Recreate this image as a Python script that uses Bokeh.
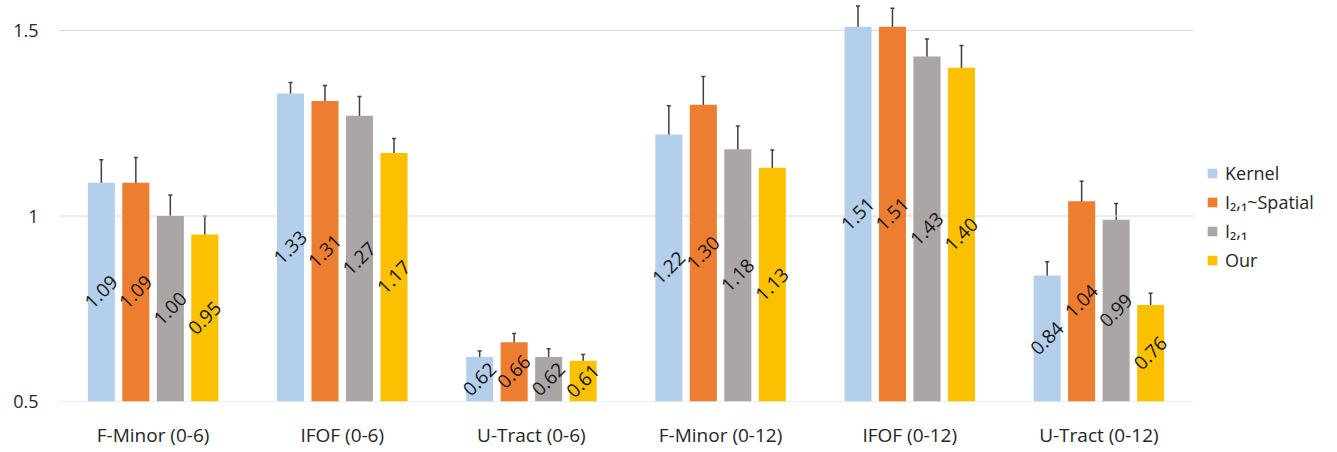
import math
from bokeh.plotting import figure
from bokeh.models import ColumnDataSource, Range1d, FixedTicker, CustomJSTickFormatter, Whisker, TeeHead, Legend, LegendItem
from bokeh.transform import dodge
from bokeh.core.properties import value
from bokeh.embed import file_html
from bokeh.resources import INLINE

categories = ["F-Minor (0-6)", "IFOF (0-6)", "U-Tract (0-6)", "F-Minor (0-12)", "IFOF (0-12)", "U-Tract (0-12)"]
series_names = ["Kernel", "I₂,₁~Spatial", "I₂,₁", "Our"]
kernel = [1.09, 1.33, 0.62, 1.22, 1.51, 0.84]
spatial = [1.09, 1.31, 0.66, 1.30, 1.51, 1.04]
l21 = [1.00, 1.27, 0.62, 1.18, 1.43, 0.99]
our = [0.95, 1.17, 0.61, 1.13, 1.40, 0.76]
kernel_err = [0.062, 0.030, 0.016, 0.077, 0.056, 0.037]
spatial_err = [0.068, 0.042, 0.023, 0.076, 0.050, 0.054]
l21_err = [0.057, 0.052, 0.022, 0.063, 0.047, 0.044]
our_err = [0.050, 0.039, 0.017, 0.048, 0.060, 0.032]
y_ticks = [0.5, 1.0, 1.5]

series_vals = [kernel, spatial, l21, our]
series_errs = [kernel_err, spatial_err, l21_err, our_err]
colors = ["#B4CFEB", "#ED7D31", "#ABA6A5", "#FBC000"]
offsets = [-0.2735, -0.0912, 0.0912, 0.2735]
bar_w = 0.143
FONT = "Open Sans"
n = len(categories)
centers = [i + 0.5 for i in range(n)]

p = figure(x_range=Range1d(0, n * 1.1128), y_range=Range1d(0.5, 1.581),
           width=1321, height=450, output_backend="svg", toolbar_location=None,
           min_border_left=58, min_border_right=0, min_border_top=0, min_border_bottom=49)
p.outline_line_color = None
p.background_fill_color = "white"
p.border_fill_color = "white"
p.xgrid.grid_line_color = None
p.ygrid.grid_line_color = None

# horizontal gridlines limited to the category span
p.segment(x0=[0] * len(y_ticks), x1=[n] * len(y_ticks), y0=y_ticks, y1=y_ticks,
          line_color="#D9D9D9", line_width=1)

items = []
for name, vals, errs, col, off in zip(series_names, series_vals, series_errs, colors, offsets):
    src = ColumnDataSource(dict(
        xc=centers, val=vals,
        upper=[v + e for v, e in zip(vals, errs)],
        lower=[v - e for v, e in zip(vals, errs)],
        mid=[(v + y_ticks[0]) / 2 for v in vals],
        txt=["%.2f" % v for v in vals],
    ))
    r = p.vbar(x=dodge("xc", off), top="val", bottom=0, width=bar_w,
               source=src, fill_color=col, line_color=None)
    items.append(LegendItem(label=name, renderers=[r]))
    w = Whisker(base=dodge("xc", off), upper="upper", lower="lower", source=src,
                line_color="#3F3F3F", line_width=1.5,
                upper_head=TeeHead(size=4, line_color="#3F3F3F", line_width=1.5),
                lower_head=TeeHead(size=4, line_color="#3F3F3F", line_width=1.5))
    p.add_layout(w)
    p.text(x=dodge("xc", off), y="mid", text="txt", source=src,
           angle=math.pi / 4, text_align="center", text_baseline="middle",
           text_font=value(FONT), text_font_size="19px", text_color="#141414")

p.yaxis.ticker = FixedTicker(ticks=y_ticks)
p.yaxis.formatter = CustomJSTickFormatter(code="return tick.toString();")
p.yaxis.axis_line_color = None
p.yaxis.major_tick_line_color = None
p.yaxis.minor_tick_line_color = None
p.yaxis.major_tick_out = 0
p.yaxis.major_tick_in = 0
p.yaxis.major_label_standoff = 20
p.yaxis.major_label_text_font = FONT
p.yaxis.major_label_text_font_size = "18px"
p.yaxis.major_label_text_color = "#262626"

p.xaxis.ticker = FixedTicker(ticks=centers)
p.xaxis.formatter = CustomJSTickFormatter(args=dict(labels=categories),
                                          code="const i = Math.floor(tick); return (i >= 0 && i < labels.length) ? labels[i] : '';")
p.xaxis.axis_line_color = None
p.xaxis.major_tick_line_color = None
p.xaxis.minor_tick_line_color = None
p.xaxis.major_tick_out = 0
p.xaxis.major_tick_in = 0
p.xaxis.major_label_standoff = 20
p.xaxis.major_label_text_font = FONT
p.xaxis.major_label_text_font_size = "19px"
p.xaxis.major_label_text_color = "#262626"

legend = Legend(items=items, location=(1148, 129), orientation="vertical",
                glyph_width=12, glyph_height=12, label_text_font=FONT,
                label_text_font_size="18px", label_text_color="#262626",
                spacing=5, padding=0, margin=0, border_line_color=None,
                background_fill_alpha=0, label_standoff=7, label_height=20)
p.add_layout(legend, "center")

open("out.html", "w").write(file_html(p, INLINE))
